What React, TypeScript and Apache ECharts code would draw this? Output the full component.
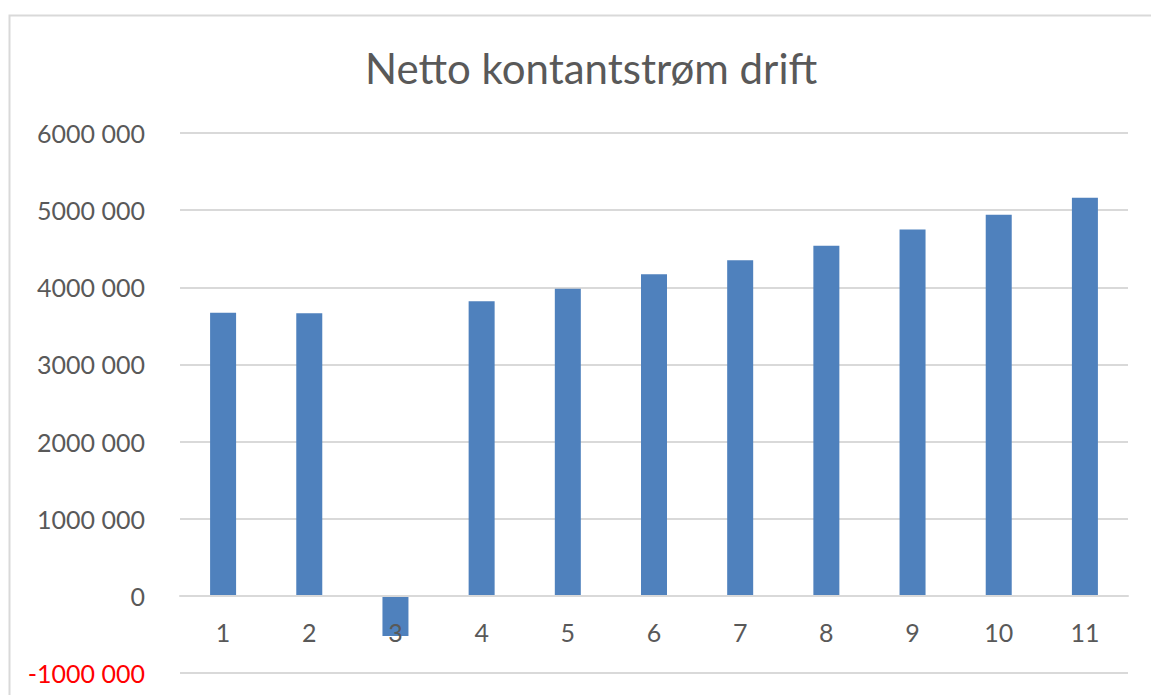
import React, { useEffect, useRef } from "react";
import * as echarts from "echarts";

const categories = ["1", "2", "3", "4", "5", "6", "7", "8", "9", "10", "11"];
const values = [3670000, 3665000, -520000, 3820000, 3980000, 4170000, 4350000, 4540000, 4750000, 4940000, 5160000];
const chartTitle = "Netto kontantstrøm drift";

function fmt(v: number): string {
  if (v === 0) return "0";
  const k = Math.round(v / 1000);
  return `${k} 000`;
}

export default function App() {
  const ref = useRef<HTMLDivElement>(null);
  useEffect(() => {
    if (!ref.current) return;
    const chart = echarts.init(ref.current, null, { renderer: "svg" });
    const font = "Lato, 'Open Sans', sans-serif";
    chart.setOption({
      animation: false,
      backgroundColor: "#ffffff",
      title: {
        text: chartTitle,
        left: 360,
        top: 42,
        textStyle: { fontFamily: font, fontSize: 42, fontWeight: "normal", color: "#595959" },
      },
      graphic: [
        {
          type: "rect",
          shape: { x: 9.5, y: 15.5, width: 1200, height: 720 },
          style: { fill: "none", stroke: "#d9d9d9", lineWidth: 2 },
          silent: true,
        },
      ],
      grid: { left: 180, right: 23, top: 133, bottom: 22, containLabel: false, outerBoundsMode: "none" },
      xAxis: {
        type: "category",
        data: categories,
        z: 3,
        axisLine: { show: true, onZero: true, lineStyle: { color: "#d9d9d9", width: 2 } },
        axisTick: { show: false },
        axisLabel: { margin: -54, fontFamily: font, fontSize: 25, color: "#595959" },
        splitLine: { show: false },
      },
      yAxis: {
        type: "value",
        min: -1000000,
        max: 6000000,
        interval: 1000000,
        axisLine: { show: false },
        axisTick: { show: false },
        splitLine: { show: true, lineStyle: { color: "#d9d9d9", width: 2 } },
        axisLabel: {
          margin: 35,
          fontFamily: font,
          fontSize: 25,
          color: "#595959",
          formatter: (v: number) => (v < 0 ? `{neg|${fmt(v)}}` : fmt(v)),
          rich: {
            neg: { color: "#ff0000", fontFamily: font, fontSize: 25 },
          },
        },
      },
      series: [
        {
          type: "bar",
          data: values,
          barWidth: 26,
          itemStyle: { color: "#4f81bd" },
        },
      ],
    });
    return () => chart.dispose();
  }, []);
  return (
    <div
      ref={ref}
      style={{ position: "fixed", left: 0, top: 0, width: 1151, height: 695 }}
    />
  );
}
